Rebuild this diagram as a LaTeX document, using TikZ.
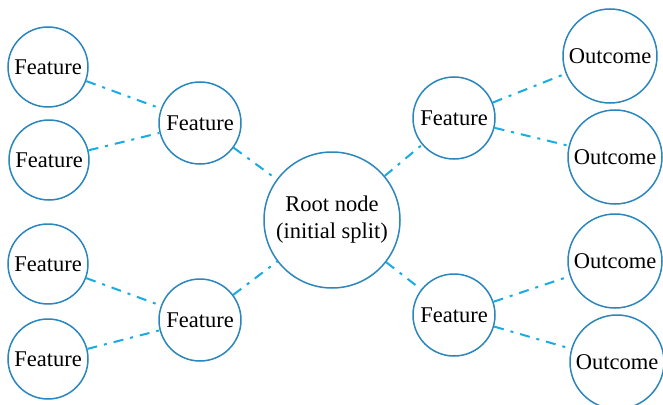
\documentclass[tikz,border=0pt]{standalone}
\usepackage{fontspec}
\setmainfont{Liberation Serif}
\definecolor{ring}{HTML}{2A86BD}
\definecolor{link}{HTML}{17ACE3}
\tikzset{
  bubble/.style={circle, draw=ring, line width=1.5pt, fill=white, inner sep=0pt,
    font=\fontsize{22.5}{27}\selectfont, align=center, text=black},
  leaf/.style={bubble, minimum size=80pt},
  mid/.style={bubble, minimum size=82pt},
  outc/.style={bubble, minimum size=94pt},
  rootc/.style={bubble, minimum size=136pt},
  conn/.style={draw=link, line width=2pt, dash pattern=on 10pt off 7pt on 3pt off 7pt}
}
\begin{document}
\begin{tikzpicture}[x=1pt,y=-1pt]
\useasboundingbox[fill=white] (0,0) rectangle (663,404);
\node[leaf] (L1) at (48,67) {Feature};
\node[leaf] (L2) at (49,160) {Feature};
\node[leaf] (L3) at (48,264) {Feature};
\node[leaf] (L4) at (48,359) {Feature};
\node[mid] (M1) at (200,123) {Feature};
\node[mid] (M2) at (200,320) {Feature};
\node[rootc] (R) at (332,220) {Root node\\(initial split)};
\node[mid] (N1) at (454,118) {Feature};
\node[mid] (N2) at (454,315) {Feature};
\node[outc] (O1) at (610,56) {Outcome};
\node[outc] (O2) at (615,157) {Outcome};
\node[outc] (O3) at (615,261) {Outcome};
\node[outc] (O4) at (617,362) {Outcome};
\draw[conn] (L1) -- (M1);
\draw[conn] (L2) -- (M1);
\draw[conn] (L3) -- (M2);
\draw[conn] (L4) -- (M2);
\draw[conn] (M1) -- (R);
\draw[conn] (M2) -- (R);
\draw[conn] (R) -- (N1);
\draw[conn] (R) -- (N2);
\draw[conn] (N1) -- (O1);
\draw[conn] (N1) -- (O2);
\draw[conn] (N2) -- (O3);
\draw[conn] (N2) -- (O4);
\end{tikzpicture}
\end{document}
